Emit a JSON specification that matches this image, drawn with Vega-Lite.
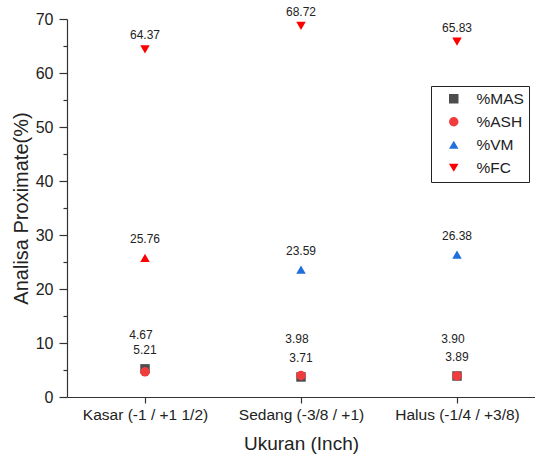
{
  "$schema": "https://vega.github.io/schema/vega-lite/v6.json",
  "width": 468,
  "height": 378,
  "autosize": {"type": "none"},
  "padding": {"left": 67, "top": 19, "right": 0, "bottom": 64},
  "background": "white",
  "config": {
    "font": "Liberation Sans",
    "view": {"stroke": null},
    "axis": {"domainColor": "#333", "tickColor": "#333", "labelColor": "#222", "titleColor": "#222", "grid": false, "titleFontWeight": "normal", "domainWidth": 1.2, "tickWidth": 1.2}
  },
  "data": {
    "values": [
      {"ukuran": "Kasar (-1 / +1 1/2)", "seri": "%MAS", "nilai": 5.21},
      {"ukuran": "Sedang (-3/8 / +1)", "seri": "%MAS", "nilai": 3.71},
      {"ukuran": "Halus (-1/4 / +3/8)", "seri": "%MAS", "nilai": 3.89},
      {"ukuran": "Kasar (-1 / +1 1/2)", "seri": "%ASH", "nilai": 4.67},
      {"ukuran": "Sedang (-3/8 / +1)", "seri": "%ASH", "nilai": 3.98},
      {"ukuran": "Halus (-1/4 / +3/8)", "seri": "%ASH", "nilai": 3.90},
      {"ukuran": "Kasar (-1 / +1 1/2)", "seri": "%VM", "nilai": 25.76},
      {"ukuran": "Sedang (-3/8 / +1)", "seri": "%VM", "nilai": 23.59},
      {"ukuran": "Halus (-1/4 / +3/8)", "seri": "%VM", "nilai": 26.38},
      {"ukuran": "Kasar (-1 / +1 1/2)", "seri": "%FC", "nilai": 64.37},
      {"ukuran": "Sedang (-3/8 / +1)", "seri": "%FC", "nilai": 68.72},
      {"ukuran": "Halus (-1/4 / +3/8)", "seri": "%FC", "nilai": 65.83}
    ]
  },
  "encoding": {
    "x": {
      "field": "ukuran", "type": "nominal", "sort": null,
      "scale": {"type": "point", "padding": 0.5},
      "axis": {"title": "Ukuran (Inch)", "labelAngle": 0, "labelFontSize": 15.5, "titleFontSize": 19, "labelPadding": 4, "titlePadding": 12, "tickSize": 6}
    },
    "y": {
      "field": "nilai", "type": "quantitative",
      "scale": {"domain": [0, 70], "nice": false, "zero": true},
      "axis": {
        "title": "Analisa Proximate(%)", "titleFontSize": 20, "labelFontSize": 16, "titlePadding": 4, "labelPadding": 6,
        "values": [0, 5, 10, 15, 20, 25, 30, 35, 40, 45, 50, 55, 60, 65, 70],
        "labelExpr": "datum.value % 10 === 0 ? datum.label : ''",
        "tickSize": {"condition": {"test": "datum.value % 10 === 0", "value": 8}, "value": 4}
      }
    }
  },
  "layer": [
    {
      "mark": {"type": "point", "filled": true, "opacity": 1, "size": 90},
      "encoding": {
        "shape": {
          "field": "seri", "type": "nominal", "sort": null,
          "scale": {"domain": ["%MAS", "%ASH", "%VM", "%FC"], "range": ["square", "circle", "triangle-up", "triangle-down"]},
          "legend": {"title": null}
        },
        "color": {
          "field": "seri", "type": "nominal", "sort": null,
          "condition": {"test": "datum.seri === '%VM' && datum.ukuran === 'Kasar (-1 / +1 1/2)'", "value": "#ff0000"},
          "scale": {"domain": ["%MAS", "%ASH", "%VM", "%FC"], "range": ["#4d4d4d", "#f03c3c", "#1f6fdc", "#ff0000"]},
          "legend": {
            "title": null, "orient": "none", "legendX": 364, "legendY": 67,
            "strokeColor": "#222", "padding": 5, "labelFontSize": 15.5, "labelColor": "#222",
            "symbolSize": 90, "rowPadding": 6, "labelOffset": 15, "symbolOffset": 10, "symbolStrokeWidth": 0
          }
        }
      }
    },
    {
      "transform": [{"filter": "datum.seri === '%MAS' || datum.seri === '%VM'"}],
      "mark": {"type": "text", "dy": -19, "fontSize": 12, "color": "#222"},
      "encoding": {"text": {"field": "nilai", "type": "quantitative", "format": ".2f"}}
    },
    {
      "transform": [{"filter": "datum.seri === '%ASH'"}],
      "mark": {"type": "text", "dy": -37, "dx": -4, "fontSize": 12, "color": "#222"},
      "encoding": {"text": {"field": "nilai", "type": "quantitative", "format": ".2f"}}
    },
    {
      "transform": [{"filter": "datum.seri === '%FC'"}],
      "mark": {"type": "text", "dy": -14, "fontSize": 12, "color": "#222"},
      "encoding": {"text": {"field": "nilai", "type": "quantitative", "format": ".2f"}}
    }
  ]
}
